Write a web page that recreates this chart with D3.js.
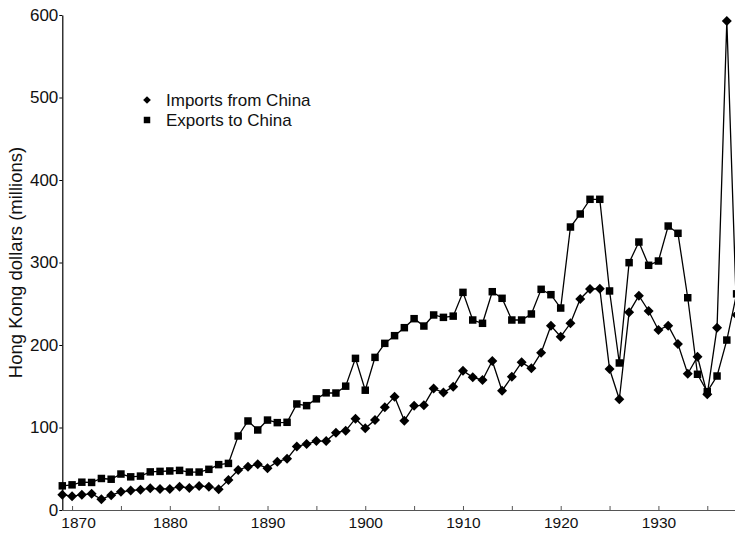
<!DOCTYPE html>
<html>
<head>
<meta charset="utf-8">
<script src="https://cdn.jsdelivr.net/npm/d3@7"></script>
<style>
  html, body { margin: 0; padding: 0; background: #fff; }
  svg { display: block; font-family: "Liberation Sans", Arial, sans-serif; }
</style>
</head>
<body>
<svg id="chart" width="735" height="537"></svg>
<script>
// Hong Kong trade with China, 1869-1938 (millions of HK dollars)
const years = d3.range(1869, 1939);

const importsFromChina = [
  18.5, 16.8, 18.4, 19.8, 13.0, 18.0, 22.0, 23.6, 24.6, 26.3,
  25.5, 25.5, 28.3, 26.7, 29.0, 28.3, 25.0, 36.4, 48.5, 52.5,
  55.4, 50.5, 58.6, 62.0, 77.0, 80.0, 83.6, 83.6, 93.7, 96.2,
  110.7, 99.0, 109.0, 124.4, 137.4, 108.3, 126.5, 126.9, 147.2, 142.4,
  149.5, 168.9, 160.8, 157.6, 180.6, 144.6, 161.6, 179.0, 171.7, 190.7,
  223.4, 210.0, 226.3, 255.8, 267.9, 268.3, 170.9, 134.2, 239.6, 259.8,
  241.2, 218.2, 223.4, 201.2, 165.2, 185.8, 140.2, 221.0, 592.7, 236.4
];

const exportsToChina = [
  29.3, 30.5, 33.7, 33.4, 38.2, 37.3, 43.6, 40.2, 41.1, 46.2,
  46.8, 47.3, 48.0, 46.0, 46.0, 49.3, 55.0, 56.5, 89.7, 107.9,
  97.0, 109.0, 105.9, 106.3, 128.5, 126.5, 134.7, 142.0, 141.8, 150.1,
  183.8, 145.2, 185.0, 202.0, 211.3, 221.0, 231.9, 223.0, 236.4, 233.5,
  235.0, 263.8, 230.3, 226.3, 264.6, 256.6, 230.3, 230.3, 237.6, 267.5,
  261.0, 244.8, 343.0, 358.8, 376.6, 376.6, 265.5, 178.2, 299.8, 324.8,
  296.6, 301.8, 344.2, 335.4, 257.3, 164.5, 143.4, 162.4, 206.0, 262.0
];

const seriesNames = ["Imports from China", "Exports to China"];
const yTicks = [0, 100, 200, 300, 400, 500, 600];
const xMajorTicks = [1870, 1880, 1890, 1900, 1910, 1920, 1930];
const xMinorTicks = d3.range(1870, 1940, 5);

const svg = d3.select("#chart");
const yFont = 17, xFont = 15.5, titleFont = 18.5, legendFont = 17;

const x = d3.scaleLinear().domain([1869, 1938]).range([62.3, 736.6]);
const y = d3.scaleLinear().domain([0, 600]).range([510, 15]);

// Y axis
const yAxis = d3.axisLeft(y).tickValues(yTicks).tickSize(3).tickSizeOuter(0);
const gy = svg.append("g").attr("transform", `translate(${x(1869)},0)`).call(yAxis);
gy.select(".domain").attr("stroke", "#000").attr("stroke-width", 1.2);
gy.selectAll(".tick line").attr("stroke", "#000");
gy.selectAll(".tick text").attr("font-size", yFont).attr("fill", "#111")
  .attr("font-family", "Liberation Sans, Arial, sans-serif").attr("x", -4);

// X axis: minor ticks every 5 years, labels every decade
const xAxis = d3.axisBottom(x).tickValues(xMinorTicks).tickSize(-4).tickSizeOuter(0)
  .tickFormat(d => xMajorTicks.includes(d) ? d : "");
const gx = svg.append("g").attr("transform", `translate(0,${y(0)})`).call(xAxis);
gx.select(".domain").attr("stroke", "#555").attr("stroke-width", 1.2);
gx.selectAll(".tick line").attr("stroke", "#555");
gx.selectAll(".tick text").attr("font-size", xFont).attr("fill", "#111")
  .attr("font-family", "Liberation Sans, Arial, sans-serif").attr("y", 7)
  // nudge the first label clear of the "0" on the value axis
  .attr("dx", d => d === xMajorTicks[0] ? 6 : 0);

// Y axis title
svg.append("text")
  .attr("transform", `translate(22,${(y(0) + y(600)) / 2}) rotate(-90)`)
  .attr("text-anchor", "middle")
  .attr("font-size", titleFont)
  .attr("fill", "#111")
  .text("Hong Kong dollars (millions)");

// Lines with markers
const line = d3.line().x((d, i) => x(years[i])).y(d => y(d));
const diamond = d3.symbol().type(d3.symbolSquare).size(50);
const square = d3.symbol().type(d3.symbolSquare).size(56);

function drawSeries(values, sym, angle) {
  svg.append("path")
    .datum(values)
    .attr("fill", "none")
    .attr("stroke", "#000")
    .attr("stroke-width", 1.3)
    .attr("d", line);
  svg.append("g").selectAll("path")
    .data(values)
    .join("path")
    .attr("transform", (d, i) => `translate(${x(years[i])},${y(d)}) rotate(${angle})`)
    .attr("d", sym)
    .attr("fill", "#000");
}

drawSeries(exportsToChina, square, 0);
drawSeries(importsFromChina, diamond, 45);

// Legend
const legend = svg.append("g").attr("transform", "translate(147,0)");
const legendRows = [
  { name: seriesNames[0], sym: d3.symbol().type(d3.symbolSquare).size(30), angle: 45, yPos: 100 },
  { name: seriesNames[1], sym: d3.symbol().type(d3.symbolSquare).size(42), angle: 0, yPos: 120 }
];
legendRows.forEach(r => {
  legend.append("path").attr("transform", `translate(0,${r.yPos}) rotate(${r.angle})`)
    .attr("d", r.sym()).attr("fill", "#000");
  legend.append("text").attr("x", 19).attr("y", r.yPos).attr("dy", "0.35em")
    .attr("font-size", legendFont).attr("fill", "#111").text(r.name);
});
</script>
</body>
</html>
